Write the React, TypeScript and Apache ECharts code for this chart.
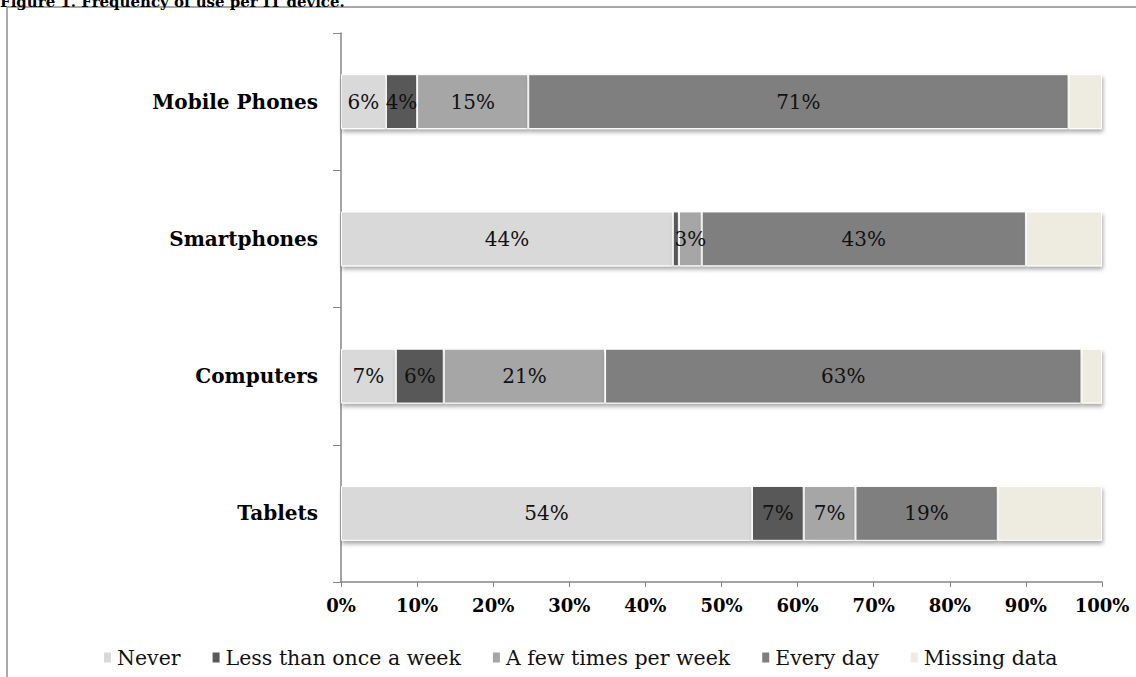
import React, { useEffect, useRef } from "react";
import * as echarts from "echarts";

const categories = ["Tablets", "Computers", "Smartphones", "Mobile Phones"];
const seriesNames = ["Never", "Less than once a week", "A few times per week", "Every day", "Missing data"];
const never = [54.0, 7.2, 43.6, 5.9];
const lessWeekly = [6.8, 6.3, 0.8, 4.1];
const fewPerWeek = [6.8, 21.2, 3.0, 14.6];
const everyDay = [18.7, 62.6, 42.6, 71.0];
const missing = [13.7, 2.7, 10.0, 4.4];
const colors = ["#d9d9d9", "#595959", "#a6a6a6", "#7f7f7f", "#eeece1"];
const xTicks = { min: 0, max: 100, interval: 10 };

const SERIF = "'DejaVu Serif', 'Liberation Serif', serif";

export default function App() {
  const ref = useRef<HTMLDivElement>(null);
  useEffect(() => {
    if (!ref.current) return;
    const chart = echarts.init(ref.current, null, { renderer: "svg" });
    const values = [never, lessWeekly, fewPerWeek, everyDay, missing];
    const series = values.map((arr, si) => ({
      name: seriesNames[si],
      type: "bar",
      stack: "total",
      barWidth: "40%",
      itemStyle: {
        color: colors[si],
        borderColor: "#ffffff",
        borderWidth: 1,
        shadowColor: "rgba(0,0,0,0.35)",
        shadowBlur: 4,
        shadowOffsetX: 1,
        shadowOffsetY: 3,
      },
      label: {
        show: si !== 4,
        position: "inside",
        color: "#111",
        fontFamily: SERIF,
        fontSize: 20,
        formatter: (p: any) => (p.value < 1.5 ? "" : Math.round(p.value) + "%"),
      },
      data: arr.map((v, i) =>
        si === 0 && i === 3
          ? { value: v, label: { backgroundColor: "#d9d9d9", padding: [13, 6, 13, 6] } }
          : v
      ),
    }));
    chart.setOption({
      animation: false,
      color: colors,
      grid: { left: 341, right: 34, top: 33, bottom: 95, containLabel: false },
      legend: {
        data: seriesNames,
        left: 102,
        bottom: 9,
        padding: 0,
        icon: "rect",
        itemWidth: 9,
        itemHeight: 12,
        itemGap: 30,
        textStyle: { fontFamily: SERIF, fontSize: 20.5, color: "#111" },
      },
      xAxis: {
        type: "value",
        min: xTicks.min,
        max: xTicks.max,
        interval: xTicks.interval,
        splitLine: { show: false },
        axisLine: { show: true, lineStyle: { color: "#868686", width: 1.5 } },
        axisTick: { show: true, length: 5, lineStyle: { color: "#868686" } },
        axisLabel: {
          formatter: "{value}%",
          fontFamily: SERIF,
          fontWeight: "bold",
          fontSize: 18,
          color: "#000",
          margin: 14,
        },
      },
      yAxis: {
        type: "category",
        data: categories,
        axisLine: { show: true, lineStyle: { color: "#868686", width: 1.5 } },
        axisTick: { show: true, length: 8, lineStyle: { color: "#868686" } },
        axisLabel: {
          fontFamily: SERIF,
          fontWeight: "bold",
          fontSize: 20,
          color: "#000",
          margin: 23,
        },
      },
      graphic: [
        {
          type: "rect",
          shape: { x: 7, y: 7, width: 1300, height: 800 },
          style: { fill: "none", stroke: "#8c8c8c", lineWidth: 1.5 },
          silent: true,
        },
        {
          type: "text",
          x: 0,
          y: 9,
          style: {
            text: "Figure 1. Frequency of use per IT device.",
            fontFamily: SERIF,
            fontWeight: "bold",
            fontSize: 15,
            fill: "#000",
            verticalAlign: "bottom",
          },
        },
      ],
      series,
    });
    return () => chart.dispose();
  }, []);
  return (
    <div
      ref={ref}
      style={{ position: "fixed", left: 0, top: 0, width: 1136, height: 677, background: "#fff" }}
    />
  );
}
